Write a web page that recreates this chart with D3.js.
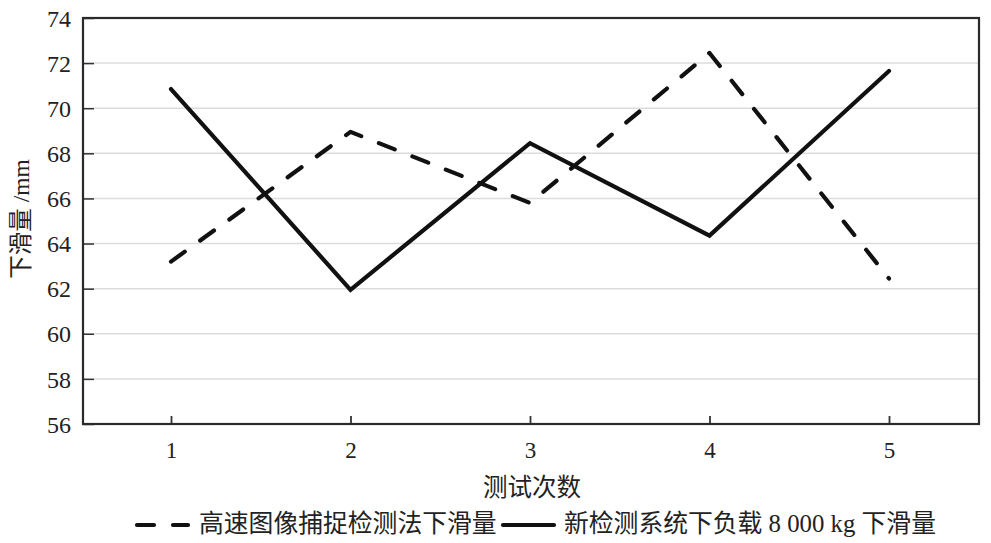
<!DOCTYPE html>
<html><head><meta charset="utf-8">
<script src="https://cdn.jsdelivr.net/npm/d3@7"></script>
<style>
body{margin:0;background:#fff;}
</style></head><body>
<svg id="c" width="991" height="543"></svg>
<script>
const trials = [1, 2, 3, 4, 5];
const highSpeed = [63.2, 68.95, 65.8, 72.45, 62.45];
const newSystem = [70.85, 61.95, 68.45, 64.35, 71.65];
const yTicks = [56, 58, 60, 62, 64, 66, 68, 70, 72, 74];
const seriesNames = ["高速图像捕捉检测法下滑量", "新检测系统下负载 8 000 kg 下滑量"];
const xTitle = "测试次数";
const yTitle = "下滑量 /mm";

const FONT = "'Liberation Serif', 'Times New Roman', 'DejaVu Serif', 'Noto Sans CJK SC', serif";
const svg = d3.select("#c");
const L = 83, R = 979, T = 18, B = 424;
const x = d3.scaleLinear().domain([0.5, 5.5]).range([81.25, 978.75]);
const y = d3.scaleLinear().domain([56, 74]).range([B, T]);

// gridlines
svg.append("g").selectAll("line").data(yTicks.filter(v => v > 56 && v < 74)).join("line")
  .attr("x1", L).attr("x2", R).attr("y1", d => y(d)).attr("y2", d => y(d))
  .attr("stroke", "#dcdcdc").attr("stroke-width", 1.5);

// y axis ticks inward
const ya = svg.append("g").attr("transform", `translate(${L},0)`)
  .call(d3.axisLeft(y).tickValues(yTicks).tickSize(-11).tickPadding(12));
ya.attr("font-family", null).attr("font-size", null);
ya.select(".domain").remove();
ya.selectAll("line").attr("stroke", "#333").attr("stroke-width", 1.5);
ya.selectAll("text").style("font-family", FONT).style("font-size", "24px").attr("fill", "#222").attr("dy", "0.34em");

// x axis ticks inward
const xa = svg.append("g").attr("transform", `translate(0,${B})`)
  .call(d3.axisBottom(x).tickValues(trials).tickSize(-8).tickPadding(18).tickFormat(d3.format("d")));
xa.attr("font-family", null).attr("font-size", null);
xa.select(".domain").remove();
xa.selectAll("line").attr("stroke", "#333").attr("stroke-width", 1.8);
xa.selectAll("text").style("font-family", FONT).style("font-size", "23px").attr("fill", "#222");

// frame
svg.append("rect").attr("x", L).attr("y", T).attr("width", R - L).attr("height", B - T)
  .attr("fill", "none").attr("stroke", "#2a2a2a").attr("stroke-width", 2.2);

const line = d3.line().x((d, i) => x(trials[i])).y(d => y(d));
svg.append("path").datum(highSpeed).attr("d", line).attr("fill", "none")
  .attr("stroke", "#111").attr("stroke-width", 4.2).attr("stroke-dasharray", "17,19")
  .attr("stroke-linecap", "round").attr("stroke-linejoin", "round");
svg.append("path").datum(newSystem).attr("d", line).attr("fill", "none")
  .attr("stroke", "#111").attr("stroke-width", 4.2)
  .attr("stroke-linecap", "round").attr("stroke-linejoin", "miter");

// titles
svg.append("text").attr("x", 532).attr("y", 496).attr("text-anchor", "middle")
  .style("font-family", FONT).style("font-size", "24.5px").attr("fill", "#222").text(xTitle);
svg.append("text").attr("transform", "translate(29,219) rotate(-90)").attr("text-anchor", "middle")
  .style("font-family", FONT).style("font-size", "23.5px").attr("fill", "#222").text(yTitle);

// legend
const lg = svg.append("g");
lg.append("line").attr("x1", 137).attr("x2", 188).attr("y1", 525).attr("y2", 525)
  .attr("stroke", "#111").attr("stroke-width", 4.2).attr("stroke-dasharray", "17,19").attr("stroke-linecap", "round");
lg.append("text").attr("x", 199).attr("y", 532).style("font-family", FONT).style("font-size", "24.8px").attr("fill", "#222").text(seriesNames[0]);
lg.append("line").attr("x1", 503).attr("x2", 554).attr("y1", 525).attr("y2", 525)
  .attr("stroke", "#111").attr("stroke-width", 4.2).attr("stroke-linecap", "round");
lg.append("text").attr("x", 564).attr("y", 532).style("font-family", FONT).style("font-size", "24.8px").attr("fill", "#222").text(seriesNames[1]);
</script></body></html>
